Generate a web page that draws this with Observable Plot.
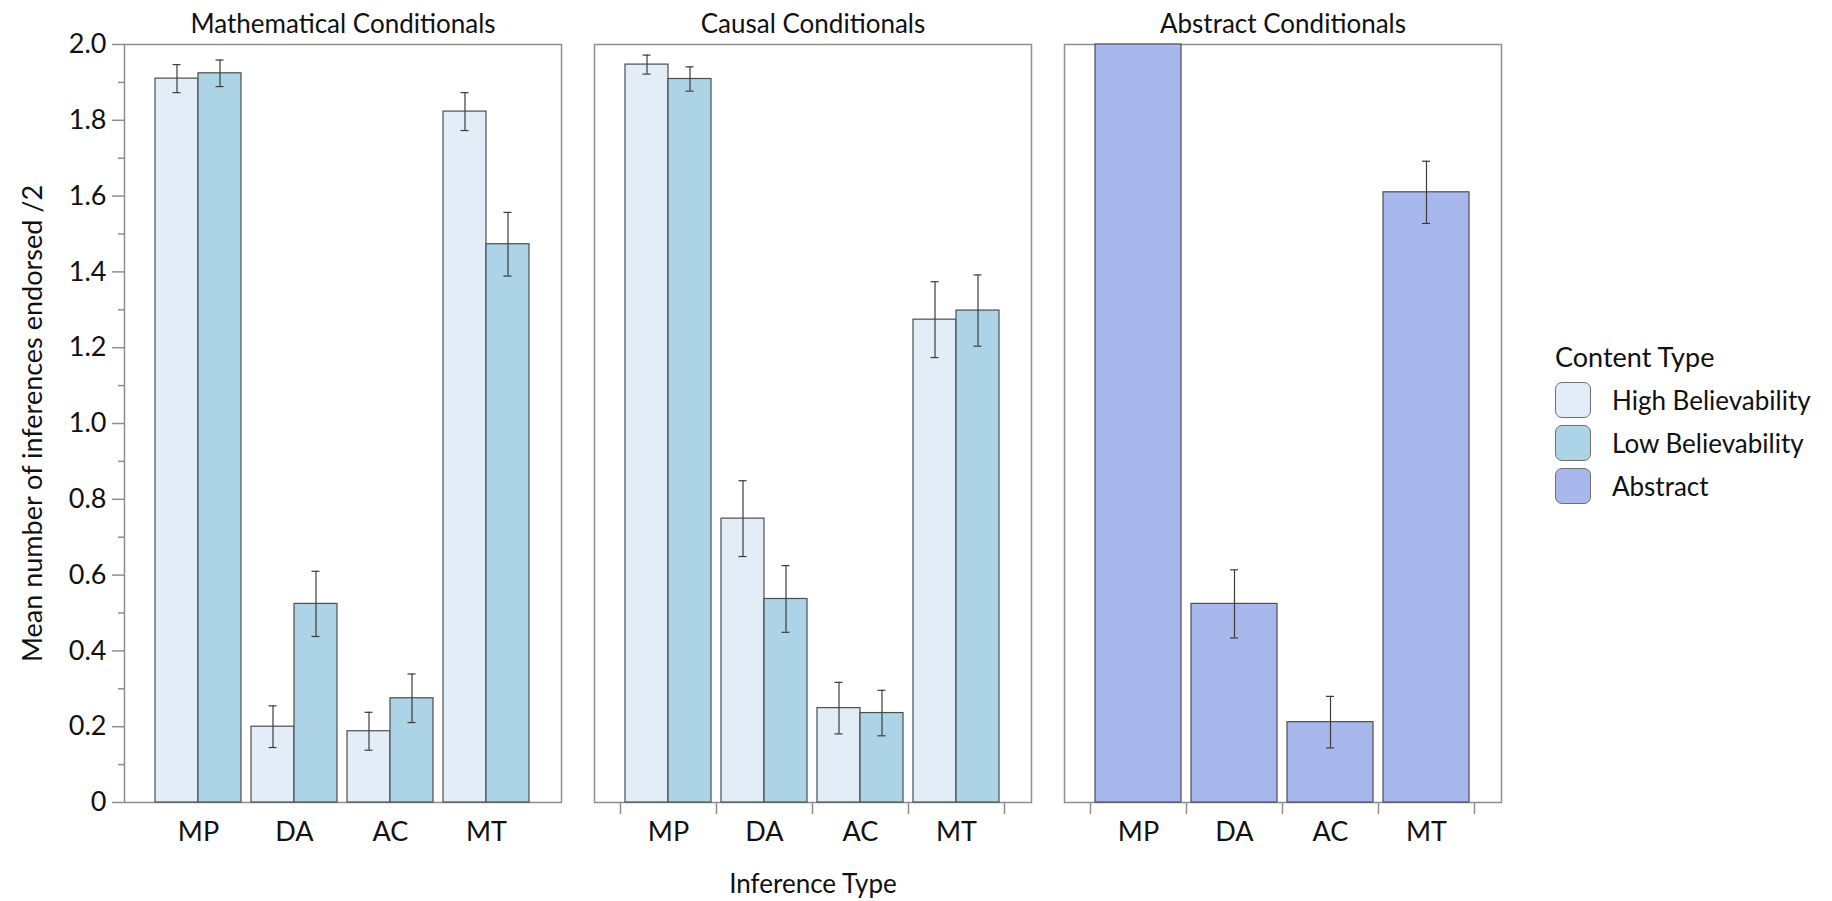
<!DOCTYPE html>
<html>
<head>
<meta charset="utf-8">
<script src="https://cdn.jsdelivr.net/npm/d3@7"></script>
<script src="https://cdn.jsdelivr.net/npm/@observablehq/plot@0.6"></script>
<style>
  body { margin: 0; background: #fff; }
  #wrap { position: relative; width: 1832px; height: 901px; font-family: Lato, "Noto Sans", sans-serif; color: #111; }
  #chart { position: absolute; left: 0; top: 0; }
  #legend { position: absolute; left: 1555px; top: 338px; }
  #legend .lt { font-size: 27px; line-height: 38px; margin-bottom: 2px; }
  #legend .row { display: flex; align-items: center; height: 43px; }
  #legend .sw { width: 36px; height: 36px; border: 1.5px solid #6f6f6f; border-radius: 7px; box-sizing: border-box; margin-right: 21px; }
  #legend .lab { font-size: 26px; }
</style>
</head>
<body>
<div id="wrap"><div id="chart"></div><div id="legend"></div></div>
<script>
// ---------- data ----------
const panels = ["Mathematical Conditionals", "Causal Conditionals", "Abstract Conditionals"];
const inferences = ["MP", "DA", "AC", "MT"];
const contentTypes = ["High Believability", "Low Believability", "Abstract"];
const colors = ["#e3edf7", "#acd3e6", "#a8b8ec"];

const mathHigh    = [1.910, 0.200, 0.188, 1.823];
const mathHighErr = [0.037, 0.055, 0.050, 0.050];
const mathLow     = [1.924, 0.524, 0.275, 1.473];
const mathLowErr  = [0.035, 0.086, 0.064, 0.084];
const causalHigh    = [1.947, 0.749, 0.249, 1.274];
const causalHighErr = [0.025, 0.100, 0.068, 0.100];
const causalLow     = [1.909, 0.537, 0.236, 1.298];
const causalLowErr  = [0.032, 0.088, 0.060, 0.094];
const abstractMean = [2.000, 0.524, 0.212, 1.610];
const abstractErr  = [0.000, 0.090, 0.068, 0.082];

const yMajor = [0, 0.2, 0.4, 0.6, 0.8, 1.0, 1.2, 1.4, 1.6, 1.8, 2.0];
const yLabels = ["0", "0.2", "0.4", "0.6", "0.8", "1.0", "1.2", "1.4", "1.6", "1.8", "2.0"];
const yMinor = [0.1, 0.3, 0.5, 0.7, 0.9, 1.1, 1.3, 1.5, 1.7, 1.9];
const yTitle = "Mean number of inferences endorsed /2";
const xTitle = "Inference Type";
const legendTitle = "Content Type";

// ---------- table ----------
const rows = [];
inferences.forEach((inf, i) => {
  rows.push({panel: panels[0], inference: inf, content: contentTypes[0], mean: mathHigh[i], err: mathHighErr[i]});
  rows.push({panel: panels[0], inference: inf, content: contentTypes[1], mean: mathLow[i], err: mathLowErr[i]});
  rows.push({panel: panels[1], inference: inf, content: contentTypes[0], mean: causalHigh[i], err: causalHighErr[i]});
  rows.push({panel: panels[1], inference: inf, content: contentTypes[1], mean: causalLow[i], err: causalLowErr[i]});
  rows.push({panel: panels[2], inference: inf, content: contentTypes[2], mean: abstractMean[i], err: abstractErr[i]});
});
const labelOf = new Map(yMajor.map((v, i) => [v, yLabels[i]]));

// ---------- plot ----------
const base = {
  width: 1832, height: 901,
  marginLeft: 123, marginRight: 331, marginTop: 44, marginBottom: 99,
  fx: {domain: panels, paddingInner: 0.0712, paddingOuter: 0, label: null},
  x: {domain: inferences, paddingInner: 0.1, paddingOuter: 0.05, insetLeft: 25, insetRight: 25, label: null},
  y: {domain: [0, 2], label: null},
  color: {domain: contentTypes, range: colors},
  style: {fontFamily: "Lato, 'Noto Sans', sans-serif", fontSize: "26px", color: "#111", background: "transparent", overflow: "visible"}
};

const probe = Plot.plot({...base, marks: [Plot.barY(rows, {fx: "panel", x: "inference", y: "mean"})]});
const xs = probe.scale("x");
const bw = xs.bandwidth;
const step = xs.step;

const isHi = d => d.content === contentTypes[0];
const isLo = d => d.content === contentTypes[1];
const isAb = d => d.content === contentTypes[2];
const barOpts = {fx: "panel", x: "inference", y: "mean", fill: "content", stroke: "#4d4d4d", strokeWidth: 1.2};
const errStroke = {stroke: "#3c3c3c", strokeWidth: 1.2};
const cap = 4;

function errorMarks(filter, center) {
  const f = d => filter(d) && d.err > 0;
  const left = bw / 2 + center - cap, right = bw / 2 - center - cap;
  return [
    Plot.ruleX(rows, {filter: f, fx: "panel", x: "inference", y1: d => d.mean - d.err, y2: d => d.mean + d.err, dx: center, ...errStroke}),
    Plot.tickY(rows, {filter: f, fx: "panel", x: "inference", y: d => d.mean - d.err, insetLeft: left, insetRight: right, ...errStroke}),
    Plot.tickY(rows, {filter: f, fx: "panel", x: "inference", y: d => d.mean + d.err, insetLeft: left, insetRight: right, ...errStroke})
  ];
}

const tickRows = d => d.panel !== panels[0] && !isLo(d);

const chart = Plot.plot({
  ...base,
  marks: [
    Plot.frame({stroke: "#8e8e8e", strokeWidth: 1.5}),
    Plot.barY(rows, {...barOpts, filter: isHi, insetRight: bw / 2}),
    Plot.barY(rows, {...barOpts, filter: isLo, insetLeft: bw / 2}),
    Plot.barY(rows, {...barOpts, filter: isAb}),
    ...errorMarks(isHi, -bw / 4),
    ...errorMarks(isLo, bw / 4),
    ...errorMarks(isAb, 0),
    Plot.ruleX(rows, {filter: tickRows, fx: "panel", x: "inference", y1: 0, y2: 0, dx: -step / 2, insetBottom: -12, stroke: "#8e8e8e", strokeWidth: 1.5}),
    Plot.ruleX(rows, {filter: d => tickRows(d) && d.inference === inferences[inferences.length - 1], fx: "panel", x: "inference", y1: 0, y2: 0, dx: step / 2, insetBottom: -12, stroke: "#8e8e8e", strokeWidth: 1.5}),
    Plot.axisY({ticks: yMajor, tickSize: 12, tickPadding: 6, tickFormat: d => labelOf.get(d), stroke: "#8e8e8e", strokeWidth: 1.5, fontSize: 27,
                label: yTitle, labelAnchor: "center", labelArrow: "none", labelOffset: 102}),
    Plot.axisY({ticks: yMinor, tickSize: 6, tickFormat: () => "", stroke: "#8e8e8e", strokeWidth: 1.5, label: null}),
    Plot.axisX({tickSize: 0, tickPadding: 19, fontSize: 27, label: null}),
    Plot.axisFx({anchor: "top", tickSize: 0, tickPadding: 12, fontSize: 26, label: null}),
    Plot.text([{panel: panels[1], t: xTitle}], {fx: "panel", text: "t", frameAnchor: "bottom", dy: 90, fontSize: 26})
  ]
});
document.getElementById("chart").appendChild(chart);

// ---------- legend ----------
const legend = document.getElementById("legend");
const lt = document.createElement("div");
lt.className = "lt"; lt.textContent = legendTitle;
legend.appendChild(lt);
contentTypes.forEach((c, i) => {
  const row = document.createElement("div"); row.className = "row";
  const sw = document.createElement("div"); sw.className = "sw"; sw.style.background = colors[i];
  const lab = document.createElement("div"); lab.className = "lab"; lab.textContent = c;
  row.appendChild(sw); row.appendChild(lab); legend.appendChild(row);
});
</script>
</body>
</html>
